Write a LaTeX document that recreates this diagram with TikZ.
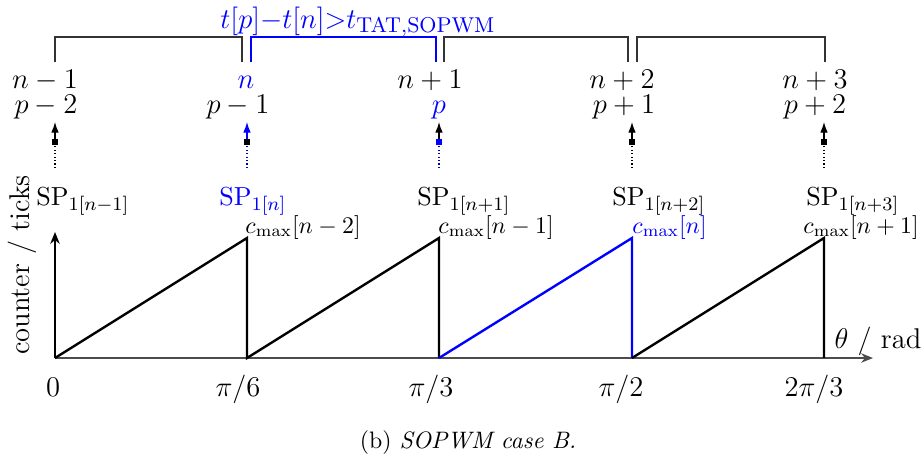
\documentclass[tikz,border=0pt]{standalone}
\usetikzlibrary{arrows.meta}
\begin{document}
\begin{tikzpicture}[x=0.42pt,y=-0.42pt,
  saw/.style={line width=1pt, line join=miter},
  brk/.style={line width=0.45pt, black!80},
  big/.style={font=\fontsize{12}{14}\selectfont},
  lbl/.style={inner sep=0pt, anchor=base},
  lblw/.style={inner sep=0pt, anchor=base west},
  sq/.style={draw=none, fill=#1, minimum size=2.2pt, inner sep=0pt},
  dotl/.style={line width=0.45pt, densely dotted, #1},
  uparr/.style={line width=0.45pt, #1, -{Latex[length=4.5pt,width=3.2pt]}},
  axis/.style={line width=0.5pt, -{Stealth[length=5pt,width=4pt]}}]
\useasboundingbox (0,0) rectangle (924,455);

% top brackets
\draw[brk] (55,62) -- (55,37) -- (242,37) -- (242,62);
\draw[brk, blue] (251,62) -- (251,37) -- (436,37) -- (436,62);
\draw[brk] (444,62) -- (444,37) -- (628,37) -- (628,62);
\draw[brk] (637,62) -- (637,37) -- (825,37) -- (825,62);
\node[lbl, text=blue, font=\fontsize{12.4}{15}\selectfont] (tat) at (358,28) {$t[p]{-}t[n]{>}t_{\mathrm{TAT,SOPWM}}$};

% upper labels
\node[lbl, big] (n1) at (45,88) {$n-1$};
\node[lbl, big] (p1) at (46,113) {$p-2$};
\node[lbl, big, text=blue] (n2) at (246,88) {$n$};
\node[lbl, big] (p2) at (238,113) {$p-1$};
\node[lbl, big] (n3) at (430,88) {$n+1$};
\node[lbl, big, text=blue] (p3) at (439,113) {$p$};
\node[lbl, big] (n4) at (622,88) {$n+2$};
\node[lbl, big] (p4) at (624,113) {$p+1$};
\node[lbl, big] (n5) at (815,88) {$n+3$};
\node[lbl, big] (p5) at (815,113) {$p+2$};

% sample arrows
\foreach \i/\x/\lc/\sc/\ac in {1/55/black/black/black, 2/247/blue/black/blue, 3/439/blue/blue/black, 4/632/black/black/black, 5/824/black/black/black}{
  \coordinate (b\i) at (\x,168);
  \coordinate (t\i) at (\x,122);
  \node[sq=\sc] (s\i) at (\x,142) {};
  \draw[dotl=\lc!70!black] (b\i) -- (s\i);
  \draw[uparr=\ac] (s\i) -- (t\i);
}

% SP labels
\begin{scope}[every node/.style={font=\fontsize{10.8}{13}\selectfont}]
\node[lblw] (sp1) at (36,205) {$\mathrm{SP}_{1[n-1]}$};
\node[lblw, text=blue] (sp2) at (219,205) {$\mathrm{SP}_{1[n]}$};
\node[lblw] (sp3) at (417,205) {$\mathrm{SP}_{1[n+1]}$};
\node[lblw] (sp4) at (612,205) {$\mathrm{SP}_{1[n+2]}$};
\node[lblw] (sp5) at (806,205) {$\mathrm{SP}_{1[n+3]}$};
\end{scope}

% axes
\coordinate (O) at (55,358);
\coordinate (X) at (873,358);
\coordinate (Y) at (55,232);
\draw[axis, black!70] (O) -- (X);
\draw[axis] (O) -- (Y);
\node[inner sep=0pt, rotate=90, big] (ylab) at (22,265) {counter / ticks};
\node[lbl, big] (xlab) at (878,348) {$\theta$ / rad};

% sawtooth
\coordinate (z0) at (55,358);
\coordinate (z1) at (247,358);
\coordinate (z2) at (439,358);
\coordinate (z3) at (632,358);
\coordinate (z4) at (824,358);
\coordinate (m1) at (247,238);
\coordinate (m2) at (439,238);
\coordinate (m3) at (632,238);
\coordinate (m4) at (824,238);
\draw[saw] (z0) -- (m1) -- (z1) -- (m2) -- (z2);
\draw[saw, blue] (z2) -- (m3) -- (z3);
\draw[saw] (z3) -- (m4) -- (z4);

% cmax labels
\node[lblw] (c1) at (245,233) {$c_{\max}[n-2]$};
\node[lblw] (c2) at (438,233) {$c_{\max}[n-1]$};
\node[lblw, text=blue] (c3) at (632,233) {$c_{\max}[n]$};
\node[lblw] (c4) at (803,233) {$c_{\max}[n+1]$};

% tick labels
\node[lbl, big] (k0) at (53,396) {$0$};
\node[lbl, big] (k1) at (238,396) {$\pi/6$};
\node[lbl, big] (k2) at (431,396) {$\pi/3$};
\node[lbl, big] (k3) at (621,396) {$\pi/2$};
\node[lbl, big] (k4) at (814,396) {$2\pi/3$};

% caption
\node[lbl] (cap) at (468,448) {(b) \textit{SOPWM case B.}};
\end{tikzpicture}
\end{document}
